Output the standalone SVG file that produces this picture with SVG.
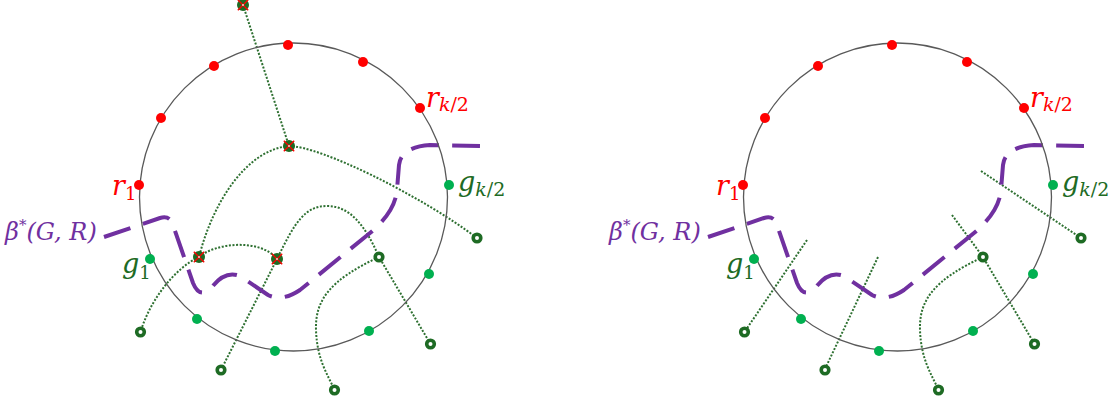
<svg xmlns="http://www.w3.org/2000/svg" width="1117" height="404" viewBox="0 0 1117 404">
<style>
.circ{fill:none;stroke:#595959;stroke-width:1.3}
.red{fill:#FF0000}
.grn{fill:#00B050}
.ring{fill:#FFFFFF;stroke:#1E6B24;stroke-width:3.6}
.dotl{fill:none;stroke:#2E7031;stroke-width:2;stroke-dasharray:2 1.6}
.beta{fill:none;stroke:#7030A0;stroke-width:4;stroke-dasharray:53.5 25.375}
text{font-family:"DejaVu Serif","Liberation Serif",serif;font-style:italic}
.tr{fill:#FF0000}.tg{fill:#1E6B24}.tp{fill:#7030A0}
.up{font-style:normal}
</style>
<defs>
<g id="xmark"><circle r="6" fill="#1E6B24"/><path d="M-5.2,-5.2L5.2,5.2M-5.2,5.2L5.2,-5.2" stroke="#FF0000" stroke-width="1.4" fill="none"/><circle r="1" fill="#FFD0D0"/></g>
</defs>

<!-- LEFT PANEL -->
<g id="connectors-left">
<path class="dotl" d="M243,5 L289,146"/>
<path class="dotl" d="M289,146 C245,150 212,205 199,257 C175,268 150,300 140.5,332"/>
<path class="dotl" d="M289,146 C320,146 420,195 477,238"/>
<path class="dotl" d="M199,257 C215,243 260,238 277,259"/>
<path class="dotl" d="M221,370 L277,259 C295,222 305,206 327,206 C350,206 365,225 379,257 L430.5,344"/>
<path class="dotl" d="M379,257 C330,280 315,300 316,330 C317,360 328,375 334.5,390"/>
<path class="beta" pathLength="1000" d="M104,237 L160,218 Q170,215 173,225 L193,283 Q200,300 212,287 Q225,270 240,276 L268,295 Q282,302 300,290 L370,233 Q395,212 397,190 L399,165 Q401,147 430,145 L480,146"/>
</g>
<g id="circle-left"><circle class="circ" cx="293.5" cy="197" r="154"/></g>
<g id="r-left">
<circle id="rL1" class="red" cx="139" cy="185" r="5"/>
<circle id="rL2" class="red" cx="161" cy="118" r="5"/>
<circle id="rL3" class="red" cx="214" cy="66" r="5"/>
<circle id="rL4" class="red" cx="288" cy="45" r="5"/>
<circle id="rL5" class="red" cx="363" cy="62" r="5"/>
<circle id="rL6" class="red" cx="420" cy="108" r="5"/>
</g>
<g id="g-left">
<circle id="gL1" class="grn" cx="150" cy="259" r="5"/>
<circle id="gL2" class="grn" cx="197" cy="319" r="5"/>
<circle id="gL3" class="grn" cx="275" cy="351" r="5"/>
<circle id="gL4" class="grn" cx="369" cy="331" r="5"/>
<circle id="gL5" class="grn" cx="429" cy="274" r="5"/>
<circle id="gL6" class="grn" cx="449" cy="185" r="5"/>
</g>
<g id="terminals-left">
<circle id="tL1" class="ring" cx="140.5" cy="332" r="3.8"/>
<circle id="tL2" class="ring" cx="221" cy="370" r="3.8"/>
<circle id="tL3" class="ring" cx="334.5" cy="390" r="3.8"/>
<circle id="tL4" class="ring" cx="430.5" cy="344" r="3.8"/>
<circle id="tL5" class="ring" cx="477" cy="238" r="3.8"/>
<circle id="tL6" class="ring" cx="379" cy="257" r="3.8"/>
</g>
<g id="crossed-left">
<use id="xL1" href="#xmark" x="243" y="5"/>
<use id="xL2" href="#xmark" x="289" y="146"/>
<use id="xL3" href="#xmark" x="199" y="257"/>
<use id="xL4" href="#xmark" x="277" y="259"/>
</g>
<g id="labels-left">
<text class="tr" x="112" y="195" font-size="27">r<tspan class="up" font-size="18" dy="5">1</tspan></text>
<text class="tr" x="426" y="107" font-size="27">r<tspan font-size="19" dy="4">k</tspan><tspan class="up" font-size="19">/2</tspan></text>
<text class="tg" x="122" y="273" font-size="27">g<tspan class="up" font-size="18" dy="6">1</tspan></text>
<text class="tg" x="458" y="191" font-size="27">g<tspan font-size="19" dy="5">k</tspan><tspan class="up" font-size="19">/2</tspan></text>
<text class="tp" x="5" y="240" font-size="24">β<tspan class="up" font-size="15" dy="-10">*</tspan><tspan dy="10">(G, R)</tspan></text>
</g>

<!-- RIGHT PANEL -->
<g id="connectors-right">
<path class="dotl" d="M807,240 L744.5,332"/>
<path class="dotl" d="M878,257 L825,369"/>
<path class="dotl" d="M983,257 C934,280 919,300 920,330 C921,360 932,375 938.5,390"/>
<path class="dotl" d="M952,215 L983,257 L1034.5,344"/>
<path class="dotl" d="M981,171 L1081,238"/>
<path class="beta" pathLength="1000" transform="translate(604,0)" d="M104,237 L160,218 Q170,215 173,225 L193,283 Q200,300 212,287 Q225,270 240,276 L268,295 Q282,302 300,290 L370,233 Q395,212 397,190 L399,165 Q401,147 430,145 L480,146"/>
</g>
<g id="panel-right" transform="translate(604,0)">
<g id="circle-right"><circle class="circ" cx="293.5" cy="197" r="154"/></g>
<g id="r-right">
<circle id="rR1" class="red" cx="139" cy="185" r="5"/>
<circle id="rR2" class="red" cx="161" cy="118" r="5"/>
<circle id="rR3" class="red" cx="214" cy="66" r="5"/>
<circle id="rR4" class="red" cx="288" cy="45" r="5"/>
<circle id="rR5" class="red" cx="363" cy="62" r="5"/>
<circle id="rR6" class="red" cx="420" cy="108" r="5"/>
</g>
<g id="g-right">
<circle id="gR1" class="grn" cx="150" cy="259" r="5"/>
<circle id="gR2" class="grn" cx="197" cy="319" r="5"/>
<circle id="gR3" class="grn" cx="275" cy="351" r="5"/>
<circle id="gR4" class="grn" cx="369" cy="331" r="5"/>
<circle id="gR5" class="grn" cx="429" cy="274" r="5"/>
<circle id="gR6" class="grn" cx="449" cy="185" r="5"/>
</g>
<g id="terminals-right">
<circle id="tR1" class="ring" cx="140.5" cy="332" r="3.8"/>
<circle id="tR2" class="ring" cx="221" cy="370" r="3.8"/>
<circle id="tR3" class="ring" cx="334.5" cy="390" r="3.8"/>
<circle id="tR4" class="ring" cx="430.5" cy="344" r="3.8"/>
<circle id="tR5" class="ring" cx="477" cy="238" r="3.8"/>
<circle id="tR6" class="ring" cx="379" cy="257" r="3.8"/>
</g>
<g id="labels-right">
<text class="tr" x="112" y="195" font-size="27">r<tspan class="up" font-size="18" dy="5">1</tspan></text>
<text class="tr" x="426" y="107" font-size="27">r<tspan font-size="19" dy="4">k</tspan><tspan class="up" font-size="19">/2</tspan></text>
<text class="tg" x="122" y="273" font-size="27">g<tspan class="up" font-size="18" dy="6">1</tspan></text>
<text class="tg" x="458" y="191" font-size="27">g<tspan font-size="19" dy="5">k</tspan><tspan class="up" font-size="19">/2</tspan></text>
<text class="tp" x="5" y="240" font-size="24">β<tspan class="up" font-size="15" dy="-10">*</tspan><tspan dy="10">(G, R)</tspan></text>
</g>
</g>
</svg>
